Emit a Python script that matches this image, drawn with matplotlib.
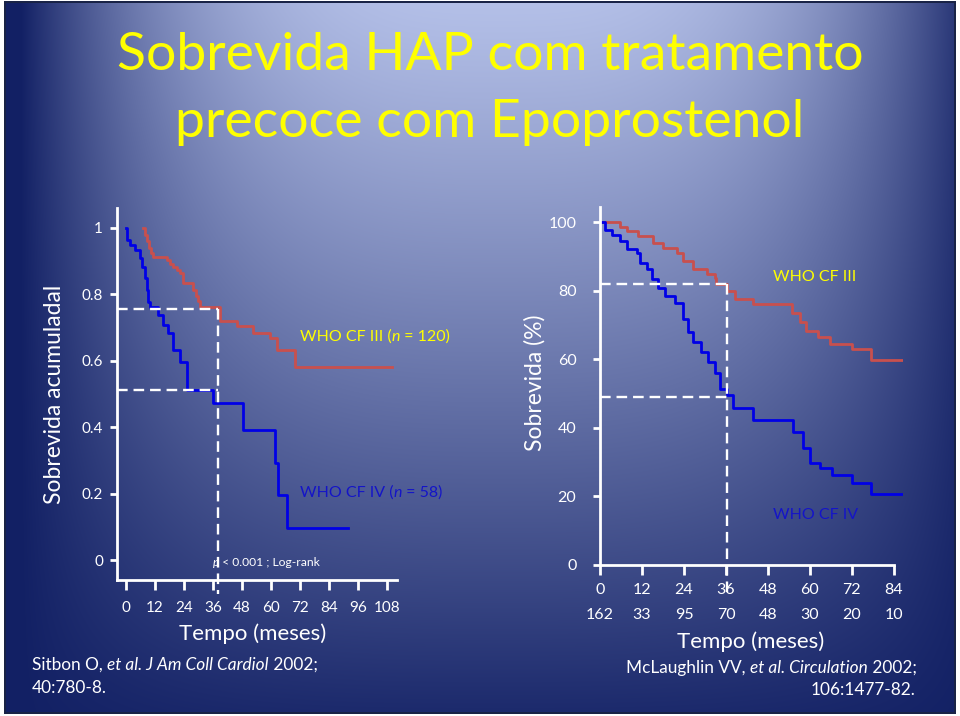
import numpy as np
import matplotlib
matplotlib.use("Agg")
import matplotlib.pyplot as plt
from matplotlib.transforms import IdentityTransform

plt.rcParams['font.family'] = ['Lato', 'DejaVu Sans']

# --- left panel: Sitbon 2002 (months, cumulative survival)
left_iii_t = [6.9, 7.8, 8.7, 9.6, 10.5, 11.3, 16.8, 18.2, 19.6, 21.0, 22.5, 23.7,
              27.9, 28.8, 29.7, 30.6, 38.9, 45.8, 52.7, 59.6, 62.4, 69.9, 109.9]
left_iii_s = [1.0, 0.98, 0.96, 0.94, 0.925, 0.912, 0.905, 0.893, 0.884, 0.874, 0.865, 0.834,
              0.814, 0.795, 0.78, 0.763, 0.72, 0.705, 0.683, 0.67, 0.633, 0.583, 0.583]
left_iv_t = [0, 0.3, 1.7, 3.7, 5.8, 6.5, 7.9, 8.6, 9.2, 9.9, 13.4, 15.4, 17.5, 19.6,
             22.3, 25.1, 36.1, 48.5, 61.7, 63.0, 66.5, 92.0]
left_iv_s = [1.0, 0.964, 0.95, 0.934, 0.909, 0.884, 0.849, 0.814, 0.778, 0.763, 0.738, 0.708,
             0.685, 0.633, 0.598, 0.513, 0.473, 0.393, 0.293, 0.197, 0.097, 0.097]
left_xticks = [0, 12, 24, 36, 48, 60, 72, 84, 96, 108]
left_yticks = [0, 0.2, 0.4, 0.6, 0.8, 1]
left_ylabels = ['0', '0.2', '0.4', '0.6', '0.8', '1']
left_median = 38.2
left_iii_36 = 0.755
left_iv_36 = 0.513

# --- right panel: McLaughlin 2002 (months, survival %)
right_iii_t = [0, 5.7, 7.6, 10.9, 15.2, 18.1, 21.9, 23.8, 26.7, 30.5, 32.9, 33.3, 36.2,
               38.6, 43.8, 54.8, 57.1, 59.0, 62.4, 65.7, 71.9, 77.6, 86.7]
right_iii_s = [100, 98.8, 97.4, 95.9, 94.0, 92.6, 91.1, 88.7, 86.3, 84.8, 83.9, 81.9, 80.0,
               77.6, 76.1, 73.7, 70.8, 68.4, 66.5, 64.5, 63.1, 59.9, 59.9]
right_iv_t = [0, 1.5, 3.3, 5.7, 7.6, 10.5, 11.4, 13.3, 14.8, 16.7, 18.6, 21.4, 23.8, 25.2,
              26.7, 29.0, 31.0, 32.9, 34.3, 36.2, 38.1, 43.8, 55.2, 58.1, 60.0, 62.9,
              66.2, 71.9, 77.6, 86.7]
right_iv_s = [100, 97.9, 96.4, 94.5, 92.1, 91.1, 88.2, 86.3, 83.4, 81.0, 78.6, 76.6, 71.8,
              67.9, 65.0, 62.1, 59.2, 55.9, 51.5, 49.6, 45.7, 42.3, 38.9, 34.1, 29.8, 28.3,
              26.4, 24.0, 20.6, 20.6]
right_xticks = [0, 12, 24, 36, 48, 60, 72, 84]
right_at_risk = [162, 33, 95, 70, 48, 30, 20, 10]
right_yticks = [0, 20, 40, 60, 80, 100]
right_median = 36.2
right_iii_36 = 81.9
right_iv_36 = 48.9

RED = '#c8504e'
BLUE = '#0000e6'
YELLOW = '#ffff00'
LBLUE = '#1414c8'

W, H = 960, 716
fig = plt.figure(figsize=(W / 100, H / 100), dpi=100)

# background gradient (slide)
bg = fig.add_axes([0, 0, 1, 1])
yy, xx = np.mgrid[0:H, 0:W]
a = np.clip(np.abs(xx - 500) / 480.0, 0, 1) ** 3
b = 0.95 * np.clip(yy / 720.0, 0, 1) ** 1.1
f = (1 - (1 - a) * (1 - b))[..., None]
light = np.array([180, 192, 232]) / 255
dark = np.array([18, 32, 100]) / 255
img = light * (1 - f) + dark * f
inside = (xx >= 4) & (xx <= 955) & (yy >= 1) & (yy <= 713)
img[~inside] = 1.0
border = inside & ((xx <= 5) | (xx >= 954) | (yy <= 2) | (yy >= 712))
img[border] = np.array([25, 35, 70]) / 255
bg.imshow(img, aspect='auto', interpolation='bilinear')
bg.axis('off')

DISP = IdentityTransform()


def rich(x, y, parts, size, color, ha='left'):
    # place mixed normal/italic pieces in pixel coordinates (y from top)
    r = fig.canvas.get_renderer()
    def width(s, st):
        a = fig.text(0, 0, 'x' + s + 'x', fontsize=size, style=st)
        b = fig.text(0, 0, 'xx', fontsize=size, style=st)
        w = a.get_window_extent(r).width - b.get_window_extent(r).width
        a.remove(); b.remove()
        return w
    ws = [width(s, st) for s, st in parts]
    x0 = x - sum(ws) if ha == 'right' else x
    for (s, st), w in zip(parts, ws):
        fig.text(x0, H - y, s, fontsize=size, style=st, color=color,
                 transform=DISP, va='center', ha='left')
        x0 += w


def style_axes(ax):
    ax.patch.set_alpha(0)
    for side in ['top', 'right']:
        ax.spines[side].set_visible(False)
    for side in ['left', 'bottom']:
        ax.spines[side].set_color('white')
        ax.spines[side].set_linewidth(2)


# left chart
axL = fig.add_axes([117 / W, 1 - 580 / H, 280 / W, 372 / H])
style_axes(axL)
axL.set_xlim(-3.7, 112.1)
axL.set_ylim(-0.059, 1.06)
axL.plot(left_iii_t, left_iii_s, drawstyle='steps-post', color=RED, lw=2)
axL.plot(left_iv_t, left_iv_s, drawstyle='steps-post', color=BLUE, lw=2)
dash = dict(color='white', lw=1.7, ls=(0, (4.5, 2.5)))
axL.plot([-3.7, left_median], [left_iii_36, left_iii_36], **dash)
axL.plot([-3.7, left_median], [left_iv_36, left_iv_36], **dash)
axL.plot([left_median, left_median], [left_iii_36, -0.1], clip_on=False, **dash)
axL.set_xticks(left_xticks)
axL.set_yticks(left_yticks)
axL.set_yticklabels(left_ylabels)
axL.tick_params(axis='x', colors='white', width=2, length=7, labelsize=11, pad=8)
axL.tick_params(axis='y', colors='white', width=2, length=5, labelsize=11, pad=5)
fig.text(55 / W, 1 - 394 / H, 'Sobrevida acumuladal', rotation=90, color='white',
         fontsize=16.5, ha='center', va='center')
fig.text(253 / W, 1 - 634 / H, 'Tempo (meses)', color='white', fontsize=16,
         ha='center', va='center')
rich(300, 337, [('WHO CF III (', 'normal'), ('n', 'italic'), (' = 120)', 'normal')], 11.5, YELLOW)
rich(300, 493, [('WHO CF IV (', 'normal'), ('n', 'italic'), (' = 58)', 'normal')], 11.5, LBLUE)
rich(213, 563, [('p', 'italic'), (' < 0.001 ; Log-rank', 'normal')], 8.7, 'white')
rich(32, 665, [('Sitbon O, ', 'normal'), ('et al. J Am Coll Cardiol', 'italic'),
               (' 2002;', 'normal')], 12.4, 'white')
rich(32, 688, [('40:780-8.', 'normal')], 12.4, 'white')

# right chart
axR = fig.add_axes([600 / W, 1 - 565 / H, 303.3 / W, 358 / H])
style_axes(axR)
axR.set_xlim(0, 86.7)
axR.set_ylim(0, 104.5)
axR.spines['bottom'].set_bounds(0, 84)
axR.plot(right_iii_t, right_iii_s, drawstyle='steps-post', color=RED, lw=2)
axR.plot(right_iv_t, right_iv_s, drawstyle='steps-post', color=BLUE, lw=2)
axR.plot([0, right_median], [right_iii_36, right_iii_36], **dash)
axR.plot([0, right_median], [right_iv_36, right_iv_36], **dash)
axR.plot([right_median, right_median], [right_iii_36, -8.7], clip_on=False, **dash)
axR.set_xticks(right_xticks)
axR.set_yticks(right_yticks)
axR.tick_params(axis='x', colors='white', width=2, length=7, labelsize=11.5, pad=6)
axR.tick_params(axis='y', colors='white', width=2, length=5, labelsize=11.5, pad=12)
for xt, n in zip(right_xticks, right_at_risk):
    axR.text(xt, -0.14, str(n), transform=axR.get_xaxis_transform(), color='white',
             fontsize=11.5, ha='center', va='center')
fig.text(535 / W, 1 - 383 / H, 'Sobrevida (%)', rotation=90, color='white',
         fontsize=16.5, ha='center', va='center')
fig.text(751 / W, 1 - 642 / H, 'Tempo (meses)', color='white', fontsize=16,
         ha='center', va='center')
fig.text(773 / W, 1 - 277 / H, 'WHO CF III', color=YELLOW, fontsize=11.5, va='center')
fig.text(773 / W, 1 - 515 / H, 'WHO CF IV', color=LBLUE, fontsize=11.5, va='center')
rich(626, 668, [('McLaughlin VV, ', 'normal'), ('et al. Circulation', 'italic'),
                (' 2002;', 'normal')], 12.4, 'white')
rich(915, 690, [('106:1477-82.', 'normal')], 12.4, 'white', ha='right')

# title
fig.text(490 / W, 1 - 55 / H, 'Sobrevida HAP com tratamento', color=YELLOW, fontsize=38.5,
         ha='center', va='center')
fig.text(490 / W, 1 - 122 / H, 'precoce com Epoprostenol', color=YELLOW, fontsize=38.5,
         ha='center', va='center')

fig.savefig('out.png', dpi=100)
